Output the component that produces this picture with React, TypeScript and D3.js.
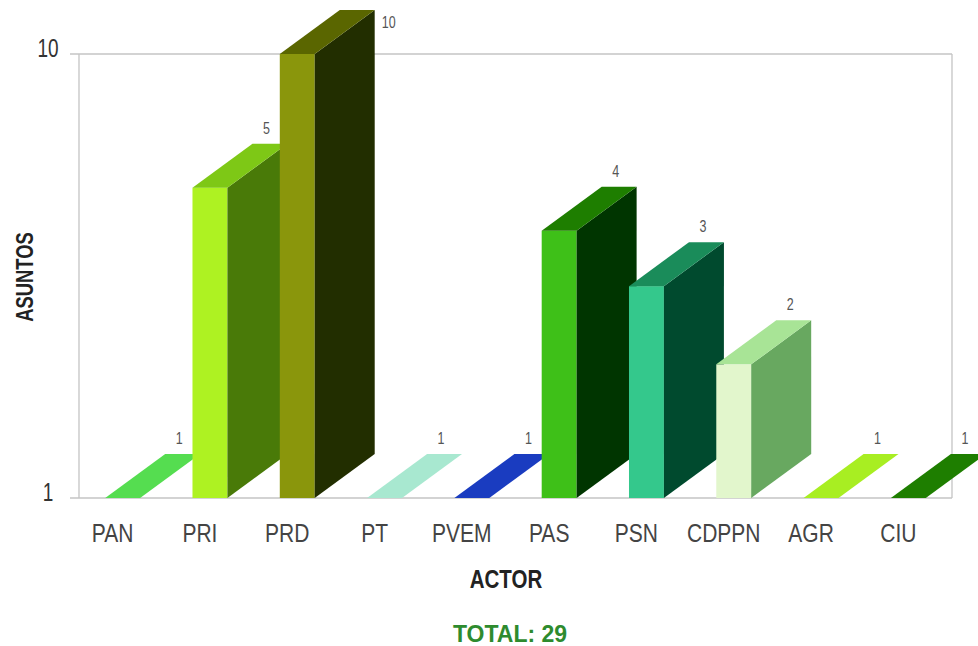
import React from "react";
import * as d3 from "d3";

const categories = ["PAN", "PRI", "PRD", "PT", "PVEM", "PAS", "PSN", "CDPPN", "AGR", "CIU"];
const values = [1, 5, 10, 1, 1, 4, 3, 2, 1, 1];
const frontColors = ["#62e65a", "#aef222", "#8a960c", "#b8f0da", "#2a50d0", "#3ec018", "#34c88c", "#e2f6cc", "#b4f230", "#2a8c0a"];
const topColors = ["#55dd50", "#7ec816", "#5a6600", "#a8e8d0", "#1a3cc0", "#1e7e00", "#1a8c5a", "#a8e496", "#a8ee22", "#1e7e00"];
const sideColors = ["#2f9a2a", "#497a08", "#222e00", "#6ab89a", "#0a2080", "#003500", "#004a2e", "#68a860", "#6aa810", "#0e4a00"];
const yTicks = [1, 10];
const total = 29;

const W = 978;
const H = 646;
const left = 79;
const right = 952;
const top = 54;
const bottom = 498;
const dx = 60;
const dy = -44;

function SText(props: {
  x: number; y: number; size: number; sy?: number; anchor?: string; weight?: string;
  fill?: string; rotate?: number; children: React.ReactNode;
}) {
  const { x, y, size, sy = 1.3, anchor = "middle", weight = "normal", fill = "#444", rotate = 0, children } = props;
  return (
    <text
      transform={`translate(${x},${y}) rotate(${rotate}) scale(1,${sy})`}
      textAnchor={anchor}
      fontFamily="'Liberation Sans', Arial, sans-serif"
      fontSize={size}
      fontWeight={weight}
      fill={fill}
    >
      {children}
    </text>
  );
}

export default function App() {
  const x = d3.scaleBand<string>().domain(categories).range([left, right]).padding(0);
  const y = d3.scaleLog().domain([1, 10]).range([bottom, top]);
  const bw = x.bandwidth() * 0.4;

  return (
    <svg width={W} height={H} style={{ position: "absolute", left: 0, top: 0, background: "#fff" }}>
      {/* frame */}
      <line x1={70} x2={right} y1={y(10)} y2={y(10)} stroke="#c4c4c4" strokeWidth={1.3} />
      <line x1={70} x2={right} y1={y(1)} y2={y(1)} stroke="#c4c4c4" strokeWidth={1.3} />
      <line x1={left} x2={left} y1={top} y2={bottom} stroke="#c4c4c4" strokeWidth={1.3} />
      <line x1={right} x2={right} y1={top} y2={bottom} stroke="#c4c4c4" strokeWidth={1.3} />

      {yTicks.map((t) => (
        <SText key={t} x={48} y={y(t) + 3} size={19} sy={1.35} fill="#333">
          {t}
        </SText>
      ))}

      {categories.map((c, i) => {
        const v = values[i];
        const cx = (x(c) as number) + x.bandwidth() / 2;
        const x0 = cx - bw / 2;
        const x1 = cx + bw / 2;
        const yt = y(v);
        const yb = y(1);
        const topPts = [[x0, yt], [x0 + dx, yt + dy], [x1 + dx, yt + dy], [x1, yt]];
        const sidePts = [[x1, yt], [x1 + dx, yt + dy], [x1 + dx, yb + dy], [x1, yb]];
        const isMax = v === d3.max(values);
        const lx = isMax ? x1 + dx + 14 : x0 + dx + 14;
        const ly = isMax ? yt + dy + 18 : yt + dy - 10;
        return (
          <g key={c}>
            {yb - yt > 0 && <rect x={x0} y={yt} width={bw} height={yb - yt} fill={frontColors[i]} />}
            {yb - yt > 0 && <polygon points={sidePts.map((p) => p.join(",")).join(" ")} fill={sideColors[i]} />}
            <polygon points={topPts.map((p) => p.join(",")).join(" ")} fill={topColors[i]} />
            <SText x={lx} y={ly} size={12.5} sy={1.3} fill="#555">
              {v}
            </SText>
            <SText x={cx - 10} y={542} size={21} sy={1.25} fill="#444">
              {c}
            </SText>
          </g>
        );
      })}

      <SText x={33} y={277} size={18.4} sy={1.3} weight="bold" fill="#222" rotate={-90}>
        ASUNTOS
      </SText>
      <SText x={506} y={588} size={20.5} sy={1.22} weight="bold" fill="#222">
        ACTOR
      </SText>
      <SText x={510} y={642} size={23} sy={1.0} weight="bold" fill="#2e8b2e">
        {`TOTAL: ${total}`}
      </SText>
    </svg>
  );
}
